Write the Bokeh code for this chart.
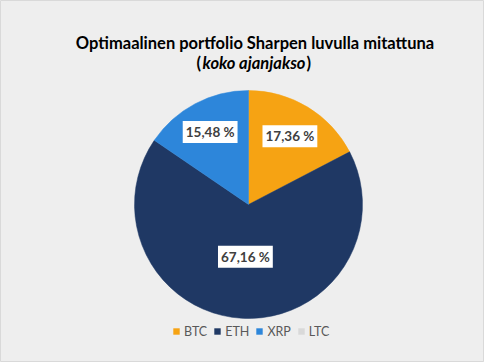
import math
from bokeh.plotting import figure
from bokeh.models import Range1d, ColumnDataSource, Legend, LegendItem
from bokeh.core.properties import value
from bokeh.embed import file_html
from bokeh.resources import INLINE

# ---- data ----
categories = ["BTC", "ETH", "XRP", "LTC"]
weights = [17.36, 67.16, 15.48, 0.0]
colors = ["#F6A313", "#1F3864", "#2D86DA", "#D9D9D9"]
title_line1 = "Optimaalinen portfolio Sharpen luvulla mitattuna"
title_line2 = "koko ajanjakso"

# ---- layout (pixels) ----
W, H = 484, 362
CX, CY, R = 248, 158, 114
label_rfrac = [0.70, 0.46, 0.72, 0.70]
FONT = "Lato"
TSIZE = "16.5px"

p = figure(width=W, height=H, output_backend="svg", toolbar_location=None,
           x_range=Range1d(0, W), y_range=Range1d(0, H), min_border=0)
p.axis.visible = False
p.grid.visible = False
p.outline_line_color = "#D9D9D9"
p.background_fill_color = "#EEEEEE"
p.border_fill_color = "#EEEEEE"

total = sum(weights)
starts, ends, mids, keep = [], [], [], []
cum = 0.0
for i, w in enumerate(weights):
    s = math.pi / 2 - 2 * math.pi * cum / total
    cum += w
    e = math.pi / 2 - 2 * math.pi * cum / total
    mids.append((s + e) / 2)
    if w > 0:
        starts.append(s)
        ends.append(e)
        keep.append(i)

src = ColumnDataSource(dict(start=starts, end=ends, color=[colors[i] for i in keep]))
p.wedge(x=CX, y=CY, radius=R, start_angle="start", end_angle="end",
        direction="clock", fill_color="color", line_color="color",
        line_width=0.5, source=src)

# legend swatches (not drawn in plot area; NaN coordinates)
nan = float("nan")
lsrc = ColumnDataSource(dict(l=[nan] * 4, r=[nan] * 4, t=[nan] * 4, b=[nan] * 4,
                             color=colors))
swatches = p.quad(left="l", right="r", top="t", bottom="b", fill_color="color",
                  line_color=None, source=lsrc)

# data labels
lx, ly, lt = [], [], []
for w, m, f in zip(weights, mids, label_rfrac):
    if w <= 0:
        continue
    lx.append(CX + f * R * math.cos(m))
    ly.append(CY + f * R * math.sin(m))
    lt.append(f"{w:.2f}".replace(".", ",") + " %")
p.text(x=lx, y=ly, text=lt, text_align="center", text_baseline="middle",
       text_font=value(FONT), text_font_style="bold", text_font_size="13.5px",
       text_color="#404040", background_fill_color="white", padding=[3, 3, 3, 3])

# title
T2X = 253.5
p.text(x=[254.5], y=[320], text=[title_line1], text_align="center",
       text_baseline="alphabetic", text_font=value(FONT), text_font_style="bold",
       text_font_size=TSIZE, text_color="#000000")
p.text(x=[T2X], y=[300], text=[title_line2], text_align="center",
       text_baseline="alphabetic", text_font=value(FONT), text_font_style="bold italic",
       text_font_size=TSIZE, text_color="#000000")
p.text(x=[T2X - 53], y=[300], text=["("], text_align="right",
       text_baseline="alphabetic", text_font=value(FONT), text_font_style="bold",
       text_font_size=TSIZE, text_color="#000000")
p.text(x=[T2X + 52.5], y=[300], text=[")"], text_align="left",
       text_baseline="alphabetic", text_font=value(FONT), text_font_style="bold",
       text_font_size=TSIZE, text_color="#000000")

# legend
items = [LegendItem(label=c, renderers=[swatches], index=i) for i, c in enumerate(categories)]
legend = Legend(items=items, orientation="horizontal", location=(172, 23),
                glyph_width=8, glyph_height=8, label_standoff=4, spacing=6,
                padding=0, margin=0, background_fill_alpha=0, border_line_color=None,
                label_text_font=FONT, label_text_font_size="12.5px",
                label_text_color="#595959", label_height=16)
p.add_layout(legend)

open("out.html", "w").write(file_html(p, INLINE))
